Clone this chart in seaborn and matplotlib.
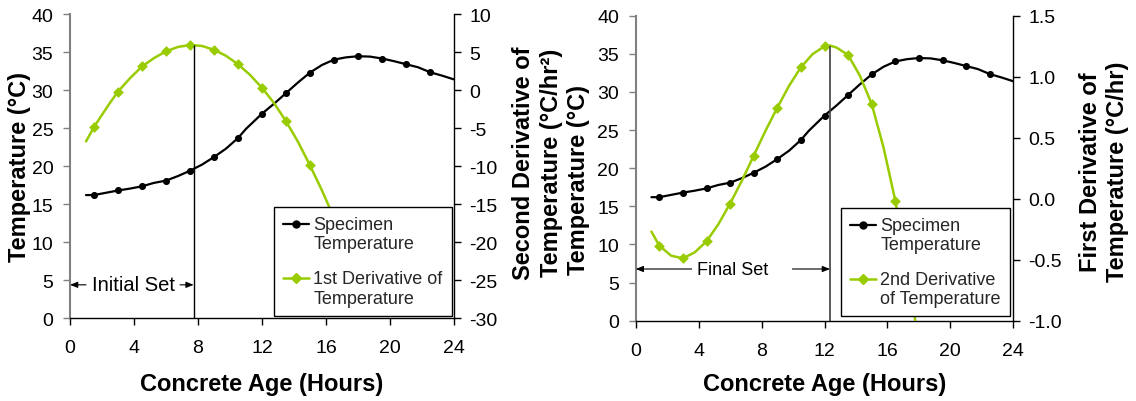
import matplotlib
matplotlib.use("Agg")
import matplotlib.pyplot as plt
from matplotlib.lines import Line2D
from matplotlib.legend_handler import HandlerLine2D
from matplotlib.ticker import FormatStrFormatter, MultipleLocator
import seaborn as sns

# ---- data -------------------------------------------------------------
# logged specimen temperature (deg C) against concrete age (h)
trace_age = [1.0, 1.5, 2.25, 3.0, 3.75, 4.5, 5.25, 6.0, 6.75, 7.5, 8.25, 9.0,
             9.75, 10.5, 11.0, 11.25, 11.5, 12.0, 12.75, 13.5, 14.25, 15.0,
             15.75, 16.5, 17.25, 18.0, 18.75, 19.5, 20.25, 21.0, 21.75, 22.5,
             23.25, 24.0]
trace_temp = [16.2, 16.2, 16.5, 16.8, 17.05, 17.35, 17.8, 18.1, 18.7, 19.4,
              20.2, 21.2, 22.3, 23.7, 24.9, 25.4, 25.9, 26.9, 28.2, 29.6,
              31.0, 32.3, 33.3, 34.0, 34.3, 34.45, 34.4, 34.15, 33.8, 33.4,
              33.0, 32.35, 31.9, 31.4]
# ages at which a marker is shown on each curve
marker_age = [1.5, 3.0, 4.5, 6.0, 7.5, 9.0, 10.5, 12.0, 13.5, 15.0, 16.5,
              18.0, 19.5, 21.0, 22.5]

# first derivative of temperature (deg C/hr)
d1_age = [1.0, 1.5, 2.0, 2.5, 3.0, 3.75, 4.5, 5.25, 6.0, 6.75, 7.5, 8.25,
          9.0, 9.75, 10.5, 11.25, 12.0, 12.75, 13.5, 14.25, 15.0, 15.75,
          16.5, 17.25, 18.0]
d1_val = [-6.75, -4.86, -3.25, -1.67, -0.2, 1.56, 3.1, 4.2, 5.1, 5.67, 5.93,
          5.8, 5.3, 4.5, 3.4, 2.0, 0.3, -1.7, -4.1, -6.8, -9.9, -13.2,
          -16.8, -20.8, -25.0]

# second derivative of temperature (deg C/hr^2)
d2_age = [1.0, 1.5, 2.25, 3.0, 3.75, 4.5, 5.25, 6.0, 6.75, 7.5, 8.25, 9.0,
          9.75, 10.5, 11.25, 12.0, 12.35, 12.75, 13.5, 14.25, 15.0, 15.75,
          16.5, 17.25, 17.8]
d2_val = [-0.27, -0.385, -0.467, -0.489, -0.44, -0.35, -0.21, -0.04, 0.148,
          0.352, 0.557, 0.746, 0.926, 1.077, 1.186, 1.249, 1.255, 1.24,
          1.178, 1.008, 0.776, 0.421, -0.016, -0.55, -1.03]

initial_set = 7.73   # h
final_set = 12.35    # h

x_ticks = [0, 4, 8, 12, 16, 20, 24]

# ---- style ------------------------------------------------------------
sns.set_theme(style="ticks")
plt.rcParams["font.family"] = ["Liberation Sans", "DejaVu Sans"]
plt.rcParams["axes.unicode_minus"] = False

GREEN = "#99CC00"
GREY = "#808080"
W, H = 1136, 402


def fx(px):
    return px / W


def fy(py):
    return 1 - py / H


class FirstLineHandler(HandlerLine2D):
    """Legend line handle lifted to sit beside the first line of its label."""

    def __init__(self, lift, **kw):
        super().__init__(**kw)
        self.lift = lift

    def create_artists(self, legend, orig_handle, xdescent, ydescent, width,
                       height, fontsize, trans):
        return super().create_artists(legend, orig_handle, xdescent,
                                      ydescent - 2 * self.lift, width, height,
                                      fontsize, trans)


fig = plt.figure(figsize=(W / 100, H / 100), dpi=100)
fig.patch.set_facecolor("white")

ax1 = fig.add_axes([fx(70), fy(319.3), 384 / W, 304.3 / H])
ax3 = fig.add_axes([fx(635.7), fy(321.7), 377.6 / W, 305 / H])
ax2 = ax1.twinx()
ax4 = ax3.twinx()

temp_at = dict(zip(trace_age, trace_temp))
d1_at = dict(zip(d1_age, d1_val))
d2_at = dict(zip(d2_age, d2_val))


def draw_temperature(ax):
    sns.lineplot(x=trace_age, y=trace_temp, ax=ax, color="black", lw=1.6,
                 estimator=None, sort=False)
    mx = [a for a in marker_age if a in temp_at]
    sns.scatterplot(x=mx, y=[temp_at[a] for a in mx], ax=ax, color="black",
                    marker="o", s=26, linewidth=0)
    ax.set_xlim(0, 24)
    ax.set_ylim(0, 40)
    ax.set_xticks(x_ticks)
    ax.yaxis.set_major_locator(MultipleLocator(5))
    ax.set_xlabel("")
    ax.set_ylabel("")
    ax.spines["top"].set_visible(False)
    ax.spines["right"].set_visible(False)
    ax.spines["left"].set_color(GREY)
    ax.spines["left"].set_linewidth(1.5)
    ax.spines["bottom"].set_color("black")
    ax.spines["bottom"].set_linewidth(1.0)
    ax.tick_params(axis="x", direction="out", length=5, width=1,
                   color="black", pad=10, labelsize=14, labelcolor="black")
    ax.tick_params(axis="y", direction="out", length=5, width=1, color=GREY,
                   pad=7, labelsize=14, labelcolor="black")


def draw_derivative(ax, ages, vals, at):
    sns.lineplot(x=ages, y=vals, ax=ax, color=GREEN, lw=1.8,
                 estimator=None, sort=False)
    mx = [a for a in marker_age if a in at]
    sns.scatterplot(x=mx, y=[at[a] for a in mx], ax=ax, color=GREEN,
                    marker="D", s=30, linewidth=0)
    ax.set_ylabel("")
    for side in ("top", "left", "bottom"):
        ax.spines[side].set_visible(False)
    ax.spines["right"].set_color("black")
    ax.spines["right"].set_linewidth(1.0)
    ax.tick_params(axis="y", direction="out", length=5, width=1,
                   color="black", pad=6, labelsize=14, labelcolor="black")


def add_legend(ax, second_label, anchor):
    handles = [
        Line2D([], [], color="black", lw=1.6, marker="o", ms=5),
        Line2D([], [], color=GREEN, lw=1.8, marker="D", ms=5),
    ]
    labels = ["Specimen\nTemperature", second_label]
    leg = ax.legend(handles, labels, loc="lower right", bbox_to_anchor=anchor,
                    borderaxespad=0, frameon=True, fancybox=False,
                    framealpha=1, facecolor="white", edgecolor="black",
                    fontsize=13, handlelength=1.45, handletextpad=0.25,
                    labelspacing=1.0, borderpad=0.5, numpoints=1,
                    handler_map={Line2D: FirstLineHandler(lift=7.5)})
    leg.get_frame().set_linewidth(1.0)
    for t in leg.get_texts():
        t.set_linespacing(1.17)
    return leg


def set_arrow(ax, tail, tip, y):
    ax.annotate("", xy=(tip, y), xytext=(tail, y),
                arrowprops=dict(arrowstyle="-|>,head_length=0.5,head_width=0.2",
                                color="black", lw=0.8, shrinkA=0, shrinkB=0,
                                mutation_scale=9))


# ---- left panel: first derivative ------------------------------------
draw_temperature(ax1)
draw_derivative(ax2, d1_age, d1_val, d1_at)
ax2.set_ylim(-30, 10)
ax2.yaxis.set_major_locator(MultipleLocator(5))
ax2.vlines(initial_set, -30, max(d1_val), color="black", lw=1.0)
add_legend(ax2, "1st Derivative of\nTemperature", (0.994, 0.0085))

set_arrow(ax1, 1.0, 0.0, 4.4)
set_arrow(ax1, 6.875, initial_set, 4.4)
ax1.text(3.96, 4.4, "Initial Set", ha="center", va="center", fontsize=14.5,
         color="black")

# ---- right panel: second derivative -----------------------------------
draw_temperature(ax3)
draw_derivative(ax4, d2_age, d2_val, d2_at)
ax4.set_ylim(-1.0, 1.5)
ax4.yaxis.set_major_locator(MultipleLocator(0.5))
ax4.yaxis.set_major_formatter(FormatStrFormatter("%.1f"))
ax4.vlines(final_set, -1.0, max(d2_val), color="#404040", lw=1.2)
add_legend(ax4, "2nd Derivative\nof Temperature", (0.991, 0.0144))

set_arrow(ax3, 3.56, 0.0, 6.78)
set_arrow(ax3, 9.96, final_set, 6.78)
ax3.text(6.17, 6.78, "Final Set", ha="center", va="center", fontsize=13,
         color="black")

# ---- axis titles ------------------------------------------------------
title_kw = dict(fontsize=17, fontweight="bold", color="black",
                ha="center", va="center")
fig.text(fx(262), fy(385), "Concrete Age (Hours)", **title_kw)
fig.text(fx(825), fy(385), "Concrete Age (Hours)", **title_kw)
fig.text(fx(20), fy(167.5), "Temperature (°C)", rotation=90, **title_kw)
fig.text(fx(537.5), fy(163), "Second Derivative of\nTemperature (°C/hr²)",
         rotation=90, multialignment="center", linespacing=1.25, **title_kw)
fig.text(fx(579), fy(180), "Temperature (°C)", rotation=90, **title_kw)
fig.text(fx(1104), fy(172), "First Derivative of\nTemperature (°C/hr)",
         rotation=90, multialignment="center", linespacing=1.25, **title_kw)

fig.savefig("out.png", dpi=100, facecolor="white")
